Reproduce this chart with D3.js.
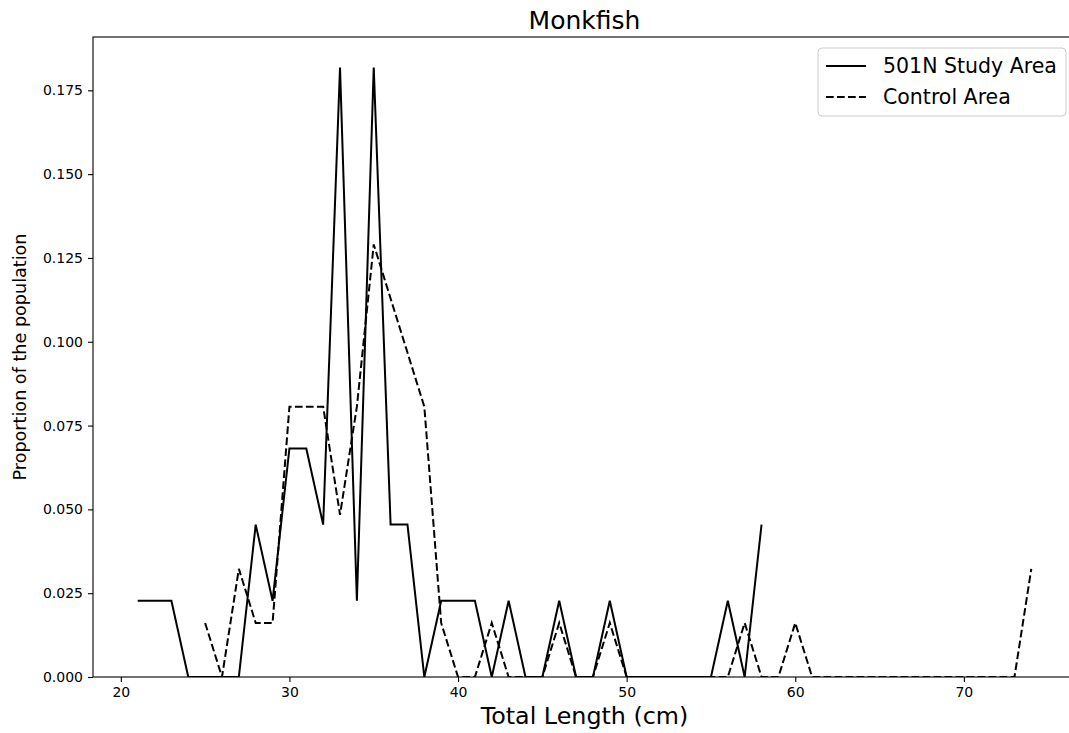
<!DOCTYPE html>
<html>
<head>
<meta charset="utf-8">
<script src="https://cdn.jsdelivr.net/npm/d3@7"></script>
<style>
  body { margin: 0; background: #fff; overflow: hidden; }
  svg { display: block; font-family: "DejaVu Sans", sans-serif; }
  .tick text { fill: #000; }
</style>
</head>
<body>
<div id="chart"></div>
<script>
// ── Data ───────────────────────────────────────────────────────────────────
// proportions are counts / 44 fish (study) and counts / 62 fish (control)
const studyLengths = d3.range(21, 59);
const studyValues = [
  1, 1, 1, 0, 0, 0, 0, 2, 1, 3, 3, 2, 8, 1, 8, 2, 2, 0, 1, 1,
  1, 0, 1, 0, 0, 1, 0, 0, 1, 0, 0, 0, 0, 0, 0, 1, 0, 2
].map(c => c / 44);

const controlLengths = d3.range(25, 75);
const controlValues = [
  1, 0, 2, 1, 1, 5, 5, 5, 3, 5, 8, 7, 6, 5, 1, 0, 0, 1, 0, 0,
  0, 1, 0, 0, 1, 0, 0, 0, 0, 0, 0, 0, 1, 0, 0, 1, 0, 0, 0, 0,
  0, 0, 0, 0, 0, 0, 0, 0, 0, 2
].map(c => c / 62);

const xTicks = [20, 30, 40, 50, 60, 70];
const yTicks = [0, 0.025, 0.05, 0.075, 0.1, 0.125, 0.15, 0.175];
const seriesNames = ["501N Study Area", "Control Area"];

// ── Layout ─────────────────────────────────────────────────────────────────
const W = 1069, H = 733;
const PLOT = { left: 93, top: 37, right: 1076, bottom: 677 };

const svg = d3.select("#chart").append("svg")
  .attr("width", W).attr("height", H);

const x = d3.scaleLinear().domain([18.35, 76.65]).range([PLOT.left, PLOT.right]);
const y = d3.scaleLinear().domain([0, (8 / 44) * 1.05]).range([PLOT.bottom, PLOT.top]);

// ── Axes ───────────────────────────────────────────────────────────────────
const xAxis = svg.append("g")
  .attr("transform", `translate(0,${PLOT.bottom})`)
  .call(d3.axisBottom(x).tickValues(xTicks).tickSize(5).tickPadding(5).tickFormat(d3.format("d")));
const yAxis = svg.append("g")
  .attr("transform", `translate(${PLOT.left},0)`)
  .call(d3.axisLeft(y).tickValues(yTicks).tickSize(5).tickPadding(5).tickFormat(d3.format(".3f")));

[xAxis, yAxis].forEach(g => {
  g.select(".domain").remove();
  g.selectAll(".tick line").attr("stroke", "#000").attr("stroke-width", 1.1);
  g.selectAll(".tick text").attr("font-size", 14).attr("font-family", "DejaVu Sans");
});

// frame
svg.append("rect")
  .attr("x", PLOT.left).attr("y", PLOT.top)
  .attr("width", PLOT.right - PLOT.left).attr("height", PLOT.bottom - PLOT.top)
  .attr("fill", "none").attr("stroke", "#000").attr("stroke-width", 1.1);

// ── Lines ──────────────────────────────────────────────────────────────────
const line = d3.line().x(d => x(d[0])).y(d => y(d[1]));
svg.append("clipPath").attr("id", "plot-clip").append("rect")
  .attr("x", PLOT.left).attr("y", PLOT.top - 5)
  .attr("width", PLOT.right - PLOT.left).attr("height", PLOT.bottom - PLOT.top + 5);

svg.append("path")
  .datum(d3.zip(studyLengths, studyValues))
  .attr("clip-path", "url(#plot-clip)")
  .attr("fill", "none").attr("stroke", "#000").attr("stroke-width", 2)
  .attr("d", line);

svg.append("path")
  .datum(d3.zip(controlLengths, controlValues))
  .attr("clip-path", "url(#plot-clip)")
  .attr("fill", "none").attr("stroke", "#000").attr("stroke-width", 2)
  .attr("stroke-dasharray", "7.7,3.3")
  .attr("d", line);

// ── Labels ─────────────────────────────────────────────────────────────────
svg.append("text")
  .attr("x", (PLOT.left + PLOT.right) / 2).attr("y", 29)
  .attr("text-anchor", "middle").attr("font-size", 25).text("Monkfish");

svg.append("text")
  .attr("x", (PLOT.left + PLOT.right) / 2).attr("y", 724)
  .attr("text-anchor", "middle").attr("font-size", 23.8).text("Total Length (cm)");

svg.append("text")
  .attr("transform", `translate(26,${(PLOT.top + PLOT.bottom) / 2}) rotate(-90)`)
  .attr("text-anchor", "middle").attr("font-size", 17.6)
  .text("Proportion of the population");

// ── Legend ─────────────────────────────────────────────────────────────────
const legend = svg.append("g").attr("transform", "translate(818,48)");
legend.append("rect")
  .attr("width", 248).attr("height", 68).attr("rx", 4)
  .attr("fill", "#fff").attr("fill-opacity", 0.8)
  .attr("stroke", "#ccc").attr("stroke-width", 1);

seriesNames.forEach((name, i) => {
  const ly = 18 + i * 31;
  legend.append("line")
    .attr("x1", 8).attr("x2", 48).attr("y1", ly).attr("y2", ly)
    .attr("stroke", "#000").attr("stroke-width", 2)
    .attr("stroke-dasharray", i === 1 ? "7.7,3.3" : null);
  legend.append("text")
    .attr("x", 65).attr("y", ly + 7)
    .attr("font-size", 20.5).attr("fill", "#000").text(name);
});
</script>
</body>
</html>
